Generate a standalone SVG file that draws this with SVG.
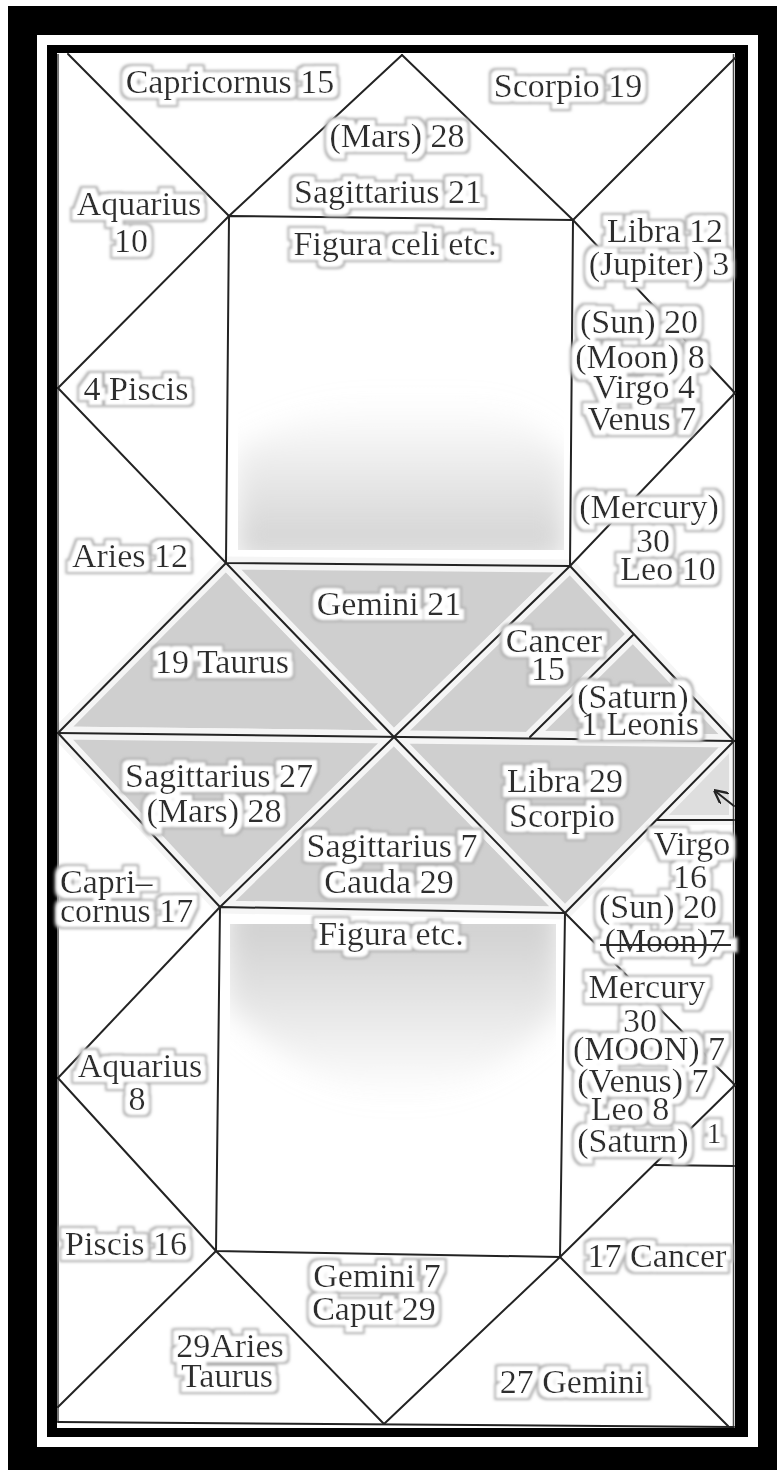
<svg xmlns="http://www.w3.org/2000/svg" width="777" height="1470" viewBox="0 0 777 1470">
<style>
.ln{stroke:#232323;stroke-width:2;fill:none;stroke-linecap:round;stroke-linejoin:round}
.edge{stroke:#4a4a4a;stroke-width:1.5;fill:none}
.shade{fill:#cfcfcf;stroke:#f5f5f5;stroke-width:13;stroke-linejoin:round}
.shade2{fill:#dedede;stroke:#f5f5f5;stroke-width:10;stroke-linejoin:round}
.lbl{font-family:"Liberation Serif","Times New Roman",serif;font-size:34px;fill:#2e2e2e;text-anchor:middle}
.lft{text-anchor:start}
.node{filter:url(#halo)}
</style>
<defs>
<filter id="halo" x="-20%" y="-60%" width="140%" height="220%">
<feMorphology in="SourceAlpha" operator="dilate" radius="7" result="big"/>
<feGaussianBlur in="big" stdDeviation="1.6" result="bigb"/>
<feFlood flood-color="#b0b0b0" result="gc"/>
<feComposite in="gc" in2="bigb" operator="in" result="grey"/>
<feMorphology in="SourceAlpha" operator="dilate" radius="5" result="mid"/>
<feGaussianBlur in="mid" stdDeviation="0.8" result="midb"/>
<feFlood flood-color="#ffffff" result="wc"/>
<feComposite in="wc" in2="midb" operator="in" result="white"/>
<feMerge><feMergeNode in="grey"/><feMergeNode in="white"/><feMergeNode in="SourceGraphic"/></feMerge>
</filter>
<filter id="soft" x="-20%" y="-30%" width="140%" height="160%">
<feGaussianBlur stdDeviation="14"/>
</filter>
<linearGradient id="gTop" gradientUnits="userSpaceOnUse" x1="0" y1="400" x2="0" y2="545">
<stop offset="0" stop-color="#d6d6d6" stop-opacity="0"/>
<stop offset="1" stop-color="#d4d4d4"/>
</linearGradient>
<linearGradient id="gBot" gradientUnits="userSpaceOnUse" x1="0" y1="930" x2="0" y2="1100">
<stop offset="0" stop-color="#d2d2d2"/>
<stop offset="1" stop-color="#d2d2d2" stop-opacity="0"/>
</linearGradient>
<clipPath id="content"><rect x="57" y="53" width="678" height="1375"/></clipPath>
<clipPath id="sqTop"><rect x="238" y="222" width="326" height="328"/></clipPath>
<clipPath id="sqBot"><rect x="230" y="924" width="326" height="320"/></clipPath>
<marker id="ah" viewBox="0 0 10 10" refX="9" refY="5" markerWidth="7" markerHeight="7" orient="auto">
<path d="M0,0 L10,5 L0,10" fill="none" stroke="#232323" stroke-width="1.6"/>
</marker>
</defs>

<!-- frames -->
<rect x="0" y="0" width="777" height="1470" fill="#ffffff"/>
<rect x="8" y="6" width="769" height="1464" fill="#000000"/>
<rect x="37" y="35" width="721" height="1412" fill="#ffffff"/>
<rect x="47" y="45" width="701" height="1392" fill="#000000"/>
<rect x="57" y="53" width="678" height="1375" fill="#ffffff"/>

<!-- shading -->
<g id="shading" clip-path="url(#content)">
<polygon class="shade" points="58,733 226,563 394,737"/>
<polygon class="shade" points="226,563 570,566 394,737"/>
<polygon class="shade" points="570,566 734,741 394,737"/>
<polygon class="shade" points="633,635 734,741 530,737"/>
<polygon class="shade" points="58,733 394,737 220,907"/>
<polygon class="shade" points="394,737 565,913 220,907"/>
<polygon class="shade" points="394,737 734,741 565,913"/>
<polygon class="shade2" points="734,741 657,820 734,820"/>
<g clip-path="url(#sqTop)">
<path d="M236,560 L236,450 C300,410 380,390 440,395 C500,400 545,425 566,460 L566,560 Z" fill="url(#gTop)" filter="url(#soft)"/>
</g>
<g clip-path="url(#sqBot)">
<path d="M226,900 L560,900 L560,1010 C525,1055 465,1095 400,1100 C330,1095 270,1050 226,1005 Z" fill="url(#gBot)" filter="url(#soft)"/>
</g>
</g>

<!-- connectors -->
<g id="connectors">
<path class="edge" d="M58,54 L58,1422 M733.5,54 L733.5,1427"/>
<path class="ln" d="M68,54 L229,216"/>
<path class="ln" d="M402,55 L229,216"/>
<path class="ln" d="M402,55 L573,220"/>
<path class="ln" d="M735,58 L573,220"/>
<path class="ln" d="M229,216 L573,220 L570,566 L226,563 Z"/>
<path class="ln" d="M229,216 L58,388"/>
<path class="ln" d="M58,388 L226,563"/>
<path class="ln" d="M573,220 L735,393"/>
<path class="ln" d="M735,393 L570,566"/>
<path class="ln" d="M226,563 L58,733"/>
<path class="ln" d="M226,563 L394,737"/>
<path class="ln" d="M570,566 L394,737"/>
<path class="ln" d="M570,566 L734,741"/>
<path class="ln" d="M633,635 L530,737"/>
<path class="ln" d="M58,733 L734,741"/>
<path class="ln" d="M58,733 L220,907"/>
<path class="ln" d="M394,737 L220,907"/>
<path class="ln" d="M394,737 L565,913"/>
<path class="ln" d="M734,741 L565,913"/>
<path class="ln" d="M220,907 L565,913 L560,1257 L216,1251 Z"/>
<path class="ln" d="M220,907 L58,1078"/>
<path class="ln" d="M58,1078 L216,1251"/>
<path class="ln" d="M565,913 L735,1085"/>
<path class="ln" d="M735,1085 L560,1257"/>
<path class="ln" d="M216,1251 L58,1407"/>
<path class="ln" d="M216,1251 L384,1424"/>
<path class="ln" d="M384,1424 L560,1257"/>
<path class="ln" d="M560,1257 L728,1426"/>
<path class="ln" d="M654,1165 L734,1166"/>
<path class="ln" d="M657,820 L734,820"/>
<path class="ln" d="M58,1422 L734,1427"/>
<path class="ln" d="M734,806 L715,791" stroke-width="1.5" marker-end="url(#ah)"/>
</g>

<!-- upper chart labels -->
<g id="capricornus-15" class="node"><text class="lbl" x="230" y="93">Capricornus 15</text></g>
<g id="scorpio-19" class="node"><text class="lbl" x="568" y="97">Scorpio 19</text></g>
<g id="sagittarius-21" class="node"><text class="lbl"><tspan x="397" y="147">(Mars) 28</tspan><tspan x="388" y="203">Sagittarius 21</tspan></text></g>
<g id="aquarius-10" class="node"><text class="lbl"><tspan x="139" y="215">Aquarius</tspan><tspan x="131" y="252">10</tspan></text></g>
<g id="figura-celi" class="node"><text class="lbl" x="395" y="255" font-size="36">Figura celi etc.</text></g>
<g id="libra-12" class="node"><text class="lbl"><tspan x="665" y="242">Libra 12</tspan><tspan x="659" y="275">(Jupiter) 3</tspan></text></g>
<g id="virgo-4" class="node"><text class="lbl"><tspan x="639" y="333">(Sun) 20</tspan><tspan x="640" y="368">(Moon) 8</tspan><tspan x="644" y="398">Virgo 4</tspan><tspan x="642" y="430">Venus 7</tspan></text></g>
<g id="piscis-4" class="node"><text class="lbl" x="136" y="400">4 Piscis</text></g>
<g id="leo-10" class="node"><text class="lbl"><tspan x="649" y="518">(Mercury)</tspan><tspan x="653" y="552">30</tspan><tspan x="668" y="580">Leo 10</tspan></text></g>
<g id="aries-12" class="node"><text class="lbl" x="130" y="567">Aries 12</text></g>
<g id="gemini-21" class="node"><text class="lbl" x="389" y="615">Gemini 21</text></g>
<g id="taurus-19" class="node"><text class="lbl" x="222" y="673">19 Taurus</text></g>
<g id="cancer-15" class="node"><text class="lbl"><tspan x="554" y="652">Cancer</tspan><tspan x="548" y="680">15</tspan></text></g>
<g id="leonis-1" class="node"><text class="lbl"><tspan x="633" y="708">(Saturn)</tspan><tspan x="640" y="735">1 Leonis</tspan></text></g>

<!-- lower chart labels -->
<g id="sagittarius-27" class="node"><text class="lbl"><tspan x="219" y="787">Sagittarius 27</tspan><tspan x="214" y="822">(Mars) 28</tspan></text></g>
<g id="libra-29" class="node"><text class="lbl"><tspan x="565" y="792">Libra 29</tspan><tspan x="562" y="827">Scorpio</tspan></text></g>
<g id="sagittarius-7" class="node"><text class="lbl"><tspan x="392" y="857">Sagittarius 7</tspan><tspan x="389" y="893">Cauda 29</tspan></text></g>
<g id="virgo-16" class="node"><text class="lbl"><tspan x="692" y="855">Virgo</tspan><tspan x="690" y="888">16</tspan><tspan x="658" y="918">(Sun) 20</tspan><tspan x="665" y="952">(Moon)7</tspan></text><line x1="600" y1="945" x2="731" y2="945" stroke="#2e2e2e" stroke-width="2"/></g>
<g id="capricornus-17" class="node"><text class="lbl lft"><tspan x="60" y="893">Capri–</tspan><tspan x="60" y="922">cornus 17</tspan></text></g>
<g id="figura" class="node"><text class="lbl" x="391" y="945">Figura etc.</text></g>
<g id="leo-8" class="node"><text class="lbl"><tspan x="647" y="998">Mercury</tspan><tspan x="640" y="1032">30</tspan><tspan x="649" y="1060">(MOON) 7</tspan><tspan x="643" y="1092">(Venus) 7</tspan><tspan x="630" y="1120">Leo 8</tspan><tspan x="633" y="1152">(Saturn)</tspan><tspan x="714" y="1143" font-size="30">1</tspan></text></g>
<g id="aquarius-8" class="node"><text class="lbl"><tspan x="140" y="1077">Aquarius</tspan><tspan x="137" y="1110">8</tspan></text></g>
<g id="piscis-16" class="node"><text class="lbl" x="126" y="1255">Piscis 16</text></g>
<g id="cancer-17" class="node"><text class="lbl" x="657" y="1267">17 Cancer</text></g>
<g id="gemini-7" class="node"><text class="lbl"><tspan x="377" y="1287">Gemini 7</tspan><tspan x="374" y="1320">Caput 29</tspan></text></g>
<g id="aries-29" class="node"><text class="lbl"><tspan x="230" y="1357">29Aries</tspan><tspan x="227" y="1387">Taurus</tspan></text></g>
<g id="gemini-27" class="node"><text class="lbl" x="572" y="1393">27 Gemini</text></g>
</svg>
